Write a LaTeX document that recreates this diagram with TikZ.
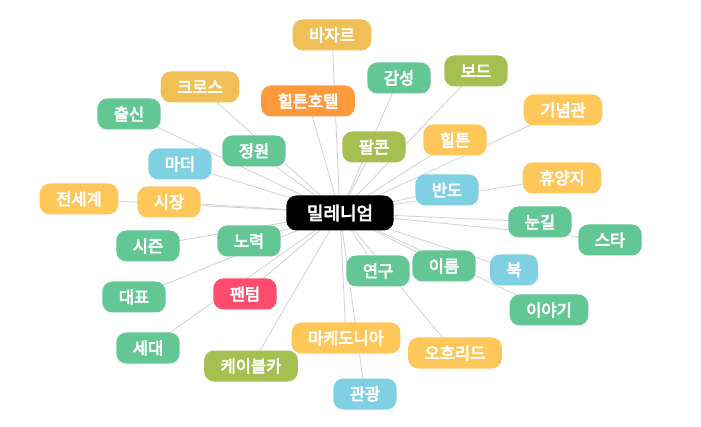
\documentclass[tikz,border=0pt]{standalone}
\usepackage{fontspec}
\newfontfamily\krfont[FakeBold=4]{Noto Sans CJK KR}
\usepackage{xcolor}
\usetikzlibrary{backgrounds}

\definecolor{wgreen}{HTML}{62C794}
\definecolor{wyellow}{HTML}{FFC65A}
\definecolor{wgold}{HTML}{F0C056}
\definecolor{worange}{HTML}{FF9A3C}
\definecolor{wolive}{HTML}{A5BF50}
\definecolor{wblue}{HTML}{7ED0E2}
\definecolor{wpink}{HTML}{FF4B6E}
\definecolor{wedge}{HTML}{CFCFDB}

\begin{document}
\begin{tikzpicture}[
  x=1pt, y=-1pt,
  every node/.style={font=\krfont\fontsize{16.5}{19}\selectfont},
  word/.style={rounded corners=10pt, inner xsep=16.5pt, inner ysep=0pt, minimum height=31pt, text=white},
  hub/.style={word, fill=black, minimum height=35pt, inner xsep=20.5pt, font=\krfont\fontsize{18}{21}\selectfont},
  edge/.style={draw=wedge, line width=0.8pt}
]
\useasboundingbox (0,0) rectangle (701,427);

\node[hub] (mil) at (340,213) {밀레니엄};

% upper left
\node[word, fill=wgold] (bazar) at (332,35) {바자르};
\node[word, fill=wgold] (cross) at (200,87) {크로스};
\node[word, fill=wgreen] (origin) at (129,114) {출신};
\node[word, fill=worange] (hiltonhotel) at (308,101) {힐튼호텔};
\node[word, fill=wgreen] (garden) at (254,151) {정원};
\node[word, fill=wblue] (mother) at (180,164) {마더};
\node[word, fill=wyellow] (world) at (79,199) {전세계};
\node[word, fill=wyellow] (market) at (169,202) {시장};

% upper right
\node[word, fill=wgreen] (feeling) at (399,78) {감성};
\node[word, fill=wolive] (board) at (476,71) {보드};
\node[word, fill=wyellow] (memorial) at (563,110) {기념관};
\node[word, fill=wolive] (falcon) at (374,147) {팔콘};
\node[word, fill=wyellow] (hilton) at (455,140) {힐튼};
\node[word, fill=wblue] (peninsula) at (447,190) {반도};
\node[word, fill=wyellow] (resort) at (562,178) {휴양지};
\node[word, fill=wgreen] (gaze) at (540,222) {눈길};
\node[word, fill=wgreen] (star) at (610,240) {스타};

% lower left
\node[word, fill=wgreen] (effort) at (249,241) {노력};
\node[word, fill=wgreen] (season) at (148,246) {시즌};
\node[word, fill=wgreen] (delegate) at (134,297) {대표};
\node[word, fill=wpink] (phantom) at (245,294) {팬텀};
\node[word, fill=wgreen] (generation) at (148,348) {세대};
\node[word, fill=wolive] (cablecar) at (251,366) {케이블카};
\node[word, fill=wyellow] (macedonia) at (346,338) {마케도니아};
\node[word, fill=wblue] (tour) at (365,394) {관광};

% lower right
\node[word, fill=wgreen] (research) at (378,271) {연구};
\node[word, fill=wgreen] (name) at (444,266) {이름};
\node[word, fill=wblue] (book) at (514,270) {북};
\node[word, fill=wgreen] (story) at (549,310) {이야기};
\node[word, fill=wyellow] (ohrid) at (455,353) {오흐리드};

\begin{scope}[on background layer]
\draw[edge] (mil.center) -- (bazar.center);
\draw[edge] (mil.center) -- (cross.center);
\draw[edge] (mil.center) -- (origin.center);
\draw[edge] (mil.center) -- (hiltonhotel.center);
\draw[edge] (mil.center) -- (garden.center);
\draw[edge] (mil.center) -- (mother.center);
\draw[edge] (mil.center) -- (world.center);
\draw[edge] (mil.center) -- (market.center);
\draw[edge] (mil.center) -- (feeling.center);
\draw[edge] (mil.center) -- (board.center);
\draw[edge] (mil.center) -- (memorial.center);
\draw[edge] (mil.center) -- (falcon.center);
\draw[edge] (mil.center) -- (hilton.center);
\draw[edge] (mil.center) -- (peninsula.center);
\draw[edge] (mil.center) -- (resort.center);
\draw[edge] (mil.center) -- (gaze.center);
\draw[edge] (mil.center) -- (star.center);
\draw[edge] (mil.center) -- (effort.center);
\draw[edge] (mil.center) -- (season.center);
\draw[edge] (mil.center) -- (delegate.center);
\draw[edge] (mil.center) -- (phantom.center);
\draw[edge] (mil.center) -- (generation.center);
\draw[edge] (mil.center) -- (cablecar.center);
\draw[edge] (mil.center) -- (macedonia.center);
\draw[edge] (mil.center) -- (tour.center);
\draw[edge] (mil.center) -- (research.center);
\draw[edge] (mil.center) -- (name.center);
\draw[edge] (mil.center) -- (book.center);
\draw[edge] (mil.center) -- (story.center);
\draw[edge] (mil.center) -- (ohrid.center);
\end{scope}
\end{tikzpicture}
\end{document}
